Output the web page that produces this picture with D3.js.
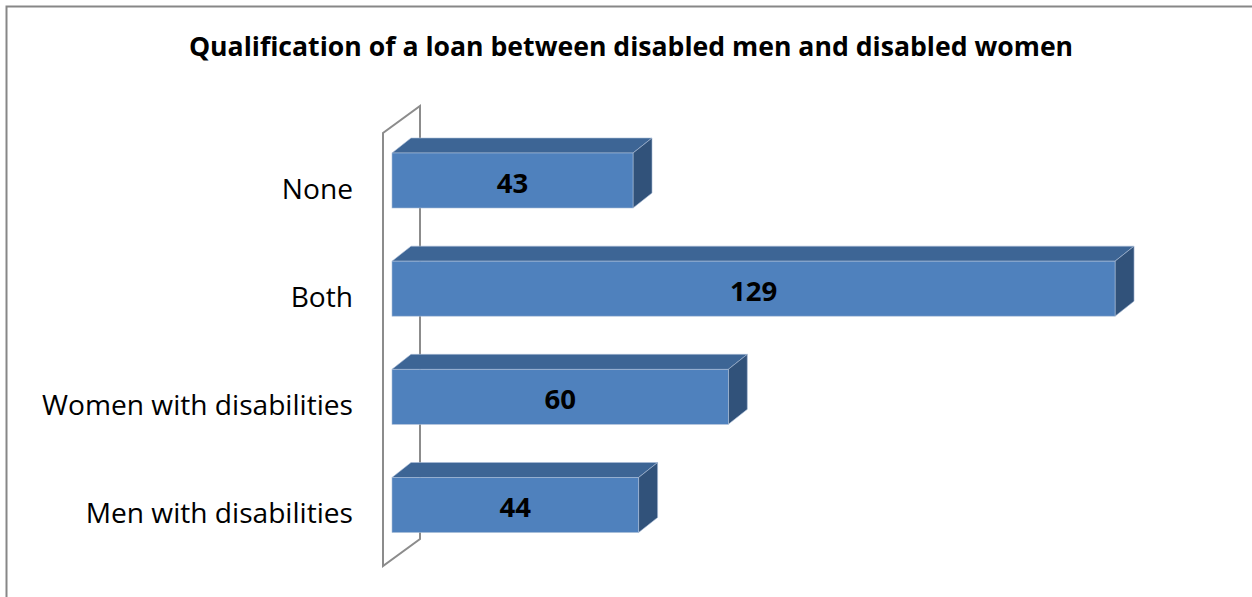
<!DOCTYPE html>
<html>
<head>
<meta charset="utf-8">
<script src="https://cdn.jsdelivr.net/npm/d3@7"></script>
<style>
  html, body { margin: 0; padding: 0; background: #fff; }
  svg { display: block; }
  text { font-family: "Open Sans", Lato, sans-serif; }
</style>
</head>
<body>
<svg id="chart" width="1252" height="597"></svg>
<script>
// Chart data
const title = "Qualification of a loan between disabled men and disabled women";
const categories = ["None", "Both", "Women with disabilities", "Men with disabilities"];
const values = [43, 129, 60, 44];

const W = 1252, H = 597;
const svg = d3.select("#chart");

// Pick a font size so a string spans the wanted width
function fitSize(str, weight, width) {
  const probe = svg.append("text").attr("font-size", 100).attr("font-weight", weight).text(str);
  const w = probe.node().getComputedTextLength();
  probe.remove();
  return 100 * width / w;
}
const titleSize = fitSize(title, 700, 885);
const labelSize = fitSize("Women with disabilities", 400, 311);
const valueSize = labelSize * 0.98;

// Chart frame
svg.append("rect")
  .attr("x", 6.5).attr("y", 6.5)
  .attr("width", W + 10).attr("height", H + 10)
  .attr("fill", "#fff")
  .attr("stroke", "#878787").attr("stroke-width", 2);

// Title
svg.append("text")
  .attr("x", 631).attr("y", 56)
  .attr("text-anchor", "middle")
  .attr("font-size", titleSize).attr("font-weight", 700)
  .attr("fill", "#000")
  .text(title);

// Scales
const x = d3.scaleLinear().domain([0, 140]).range([392, 392 + 140 * 5.605]);
const y = d3.scalePoint().domain(categories).range([180.5, 505]);
const barH = 55;

// 3D depth offsets
const wallDx = 37, wallDy = -27;   // full floor depth
const barDx = 19, barDy = -15;     // bar depth

// Side wall (vertical back plane)
const wallX = x(0) - 9;
const wallTop = 133, wallBottom = 566;
svg.append("path")
  .attr("d", `M${wallX},${wallBottom} L${wallX},${wallTop} L${wallX + wallDx},${wallTop + wallDy} L${wallX + wallDx},${wallBottom + wallDy} Z`)
  .attr("fill", "none")
  .attr("stroke", "#8c8c8c").attr("stroke-width", 2)
  .attr("stroke-linejoin", "miter");

// Bars
const bars = svg.append("g").selectAll("g.bar")
  .data(categories.map((c, i) => ({ c, v: values[i] })))
  .join("g").attr("class", "bar");

bars.each(function(d) {
  const g = d3.select(this);
  const x0 = x(0), x1 = x(d.v);
  const yt = y(d.c) - barH / 2, yb = y(d.c) + barH / 2;
  // top face
  g.append("path")
    .attr("d", `M${x0},${yt} L${x0 + barDx},${yt + barDy} L${x1 + barDx},${yt + barDy} L${x1},${yt} Z`)
    .attr("fill", "#3d6595").attr("stroke", "#a9bcd6").attr("stroke-width", 0.6);
  // right side face
  g.append("path")
    .attr("d", `M${x1},${yt} L${x1 + barDx},${yt + barDy} L${x1 + barDx},${yb + barDy} L${x1},${yb} Z`)
    .attr("fill", "#31527a").attr("stroke", "#a9bcd6").attr("stroke-width", 0.6);
  // front face
  g.append("rect")
    .attr("x", x0).attr("y", yt)
    .attr("width", x1 - x0).attr("height", barH)
    .attr("fill", "#4f81bd").attr("stroke", "#a9bcd6").attr("stroke-width", 0.6);
  // value label
  g.append("text")
    .attr("x", (x0 + x1) / 2).attr("y", y(d.c) + 12)
    .attr("text-anchor", "middle")
    .attr("font-size", valueSize).attr("font-weight", 700).attr("fill", "#000")
    .text(d.v);
});

// Category labels
svg.append("g").selectAll("text")
  .data(categories)
  .join("text")
  .attr("x", 353).attr("y", d => y(d) + 18)
  .attr("text-anchor", "end")
  .attr("font-size", labelSize).attr("fill", "#000")
  .text(d => d);
</script>
</body>
</html>
